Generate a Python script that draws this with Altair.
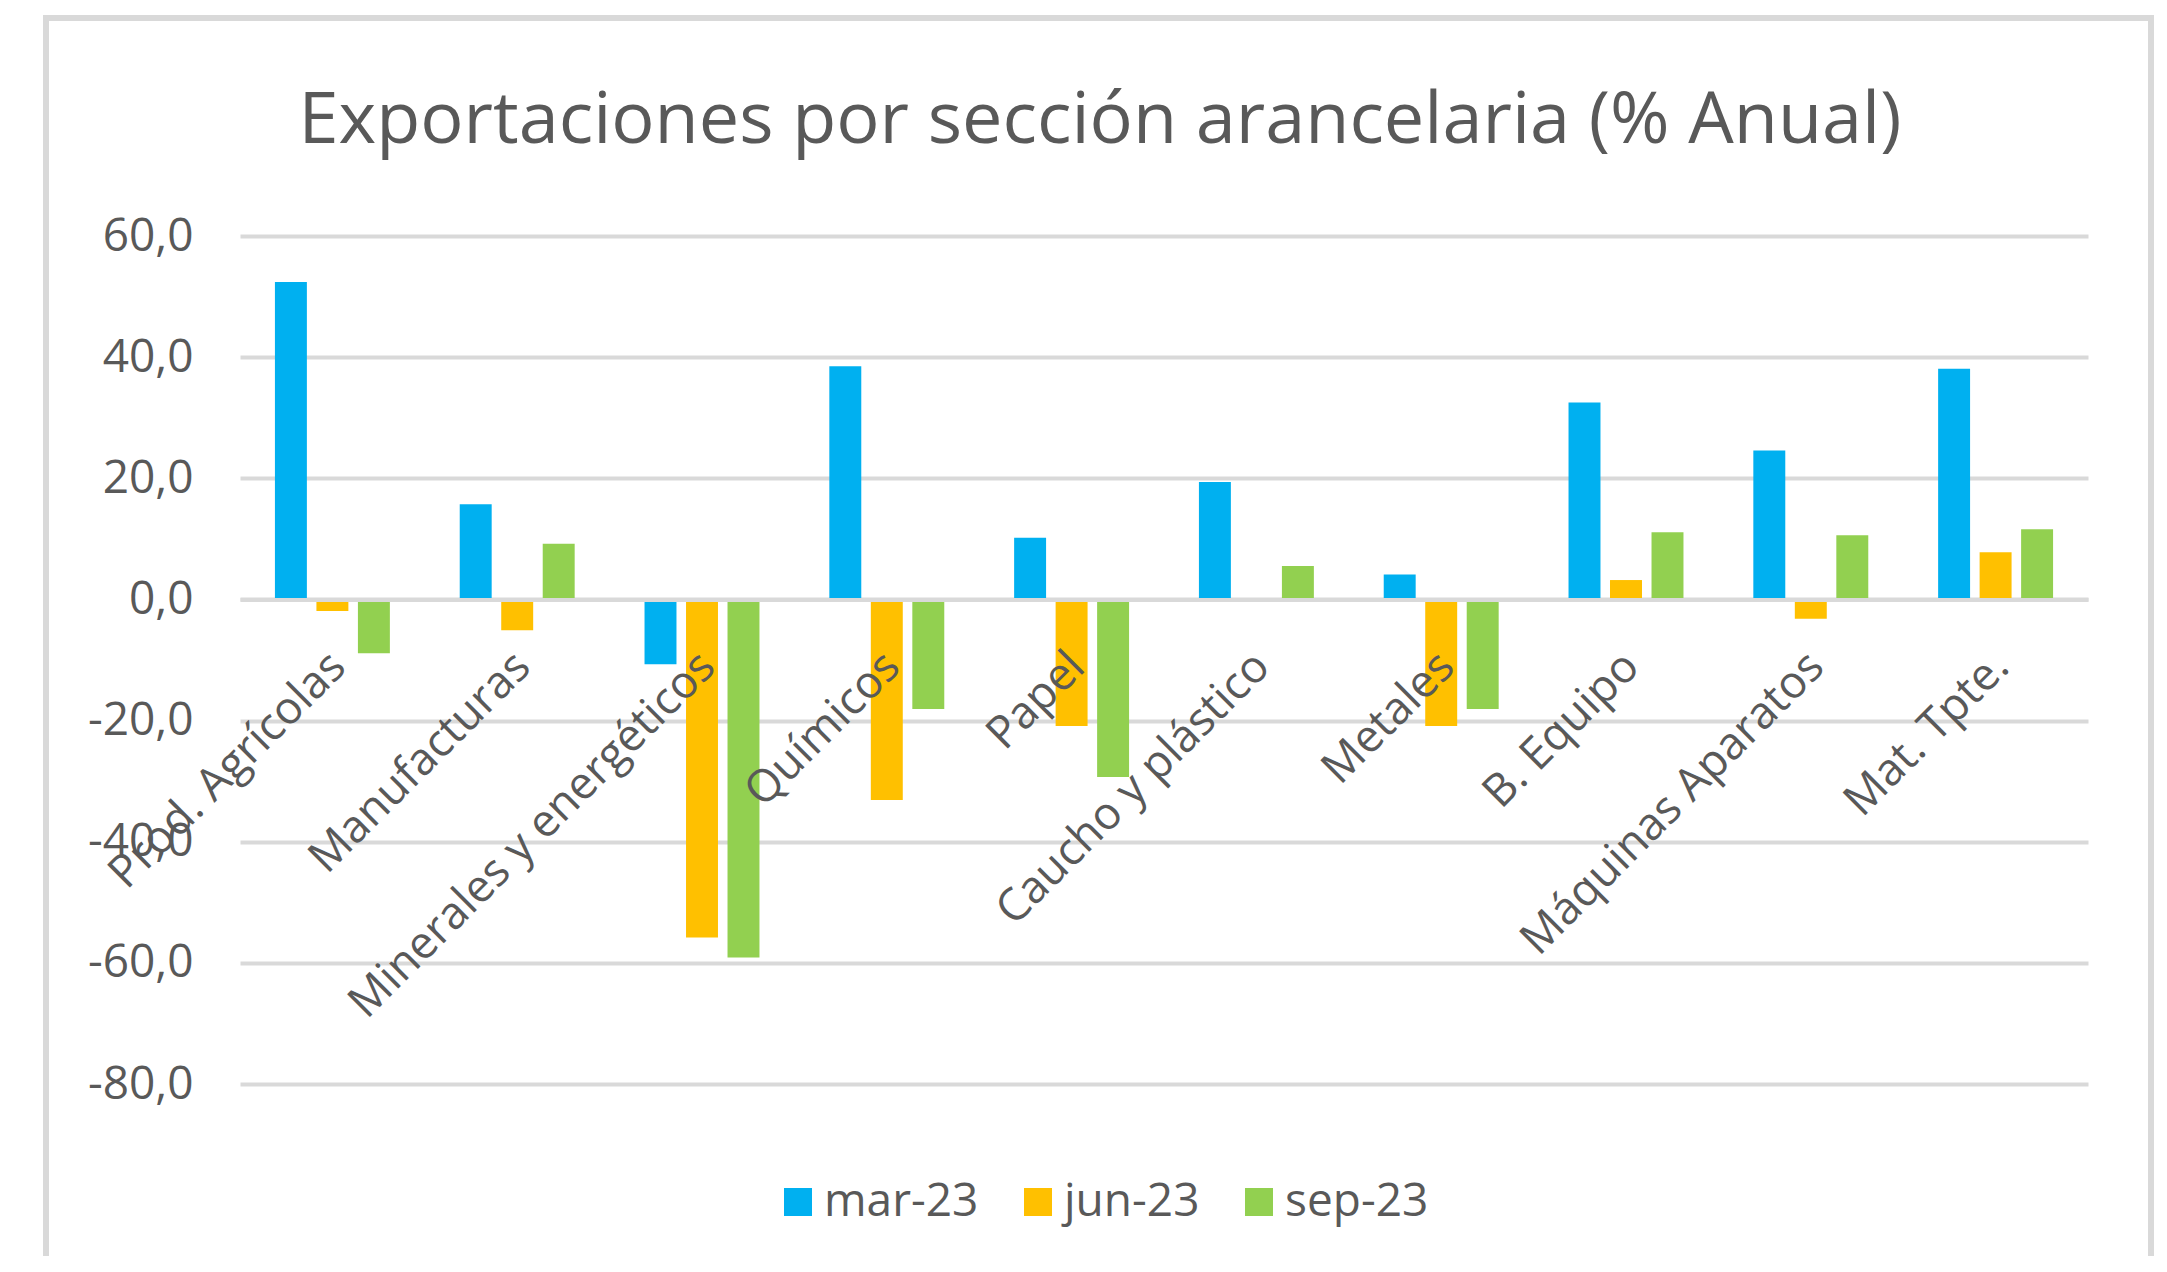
import altair as alt
import pandas as pd

categories = ["Prod. Agrícolas", "Manufacturas", "Minerales y energéticos", "Químicos",
              "Papel", "Caucho y plástico", "Metales", "B. Equipo",
              "Máquinas Aparatos", "Mat. Tpte."]
series = ["mar-23", "jun-23", "sep-23"]
mar_23 = [52.4, 15.7, -10.7, 38.5, 10.2, 19.4, 4.1, 32.5, 24.6, 38.1]
jun_23 = [-1.9, -5.1, -55.8, -33.1, -20.9, 0.0, -20.9, 3.2, -3.2, 7.8]
sep_23 = [-8.9, 9.2, -59.1, -18.1, -29.3, 5.5, -18.1, 11.1, 10.6, 11.6]
y_ticks = [-80, -60, -40, -20, 0, 20, 40, 60]
colors = ["#00B0F0", "#FFC000", "#92D050"]

rows = []
for name, vals in zip(series, [mar_23, jun_23, sep_23]):
    for c, v in zip(categories, vals):
        rows.append({"cat": c, "serie": name, "valor": v})
df = pd.DataFrame(rows)

W, H = 1848, 848
zero_from_bottom = H * 80 / 140
FONT = "Open Sans"
GRAY = "#595959"
LINE = "#D9D9D9"

bars = alt.Chart(df).mark_bar().encode(
    x=alt.X("cat:N", sort=categories, title=None,
            scale=alt.Scale(paddingInner=0.378, paddingOuter=0.189),
            axis=alt.Axis(orient="bottom", offset=-zero_from_bottom, labelAngle=-45,
                          labelAlign="right", labelBaseline="top", labelPadding=44,
                          labelOffset=-10,
                          labelFontSize=45, labelFont=FONT, labelColor=GRAY,
                          ticks=False, domainColor=LINE, domainWidth=4,
                          zindex=1, labelLimit=1000)),
    xOffset=alt.XOffset("serie:N", sort=series, scale=alt.Scale(paddingInner=0.23, paddingOuter=0)),
    y=alt.Y("valor:Q", title=None,
            scale=alt.Scale(domain=[-80, 60], nice=False, zero=False),
            axis=alt.Axis(values=y_ticks, domain=False, ticks=False,
                          gridColor=LINE, gridWidth=4,
                          labelExpr="(datum.value < 0 ? '-' : '') + replace(format(abs(datum.value), '.1f'), '.', ',')",
                          labelFontSize=46, labelFont=FONT, labelColor=GRAY,
                          labelPadding=47)),
    color=alt.Color("serie:N", sort=series,
                    scale=alt.Scale(domain=series, range=colors),
                    legend=alt.Legend(title=None, orient="none", legendX=535, legendY=943,
                                      direction="horizontal", symbolType="square",
                                      symbolSize=784, symbolStrokeWidth=0,
                                      labelFontSize=46, labelFont=FONT, labelColor=GRAY,
                                      labelOffset=3, columnPadding=36)),
)

frame = alt.Chart(pd.DataFrame({"f": [0]})).mark_rect(
    filled=False, stroke=LINE, strokeWidth=6
).encode(
    x=alt.value(-194), x2=alt.value(1911), y=alt.value(-218), y2=alt.value(1100)
)

chart = alt.layer(bars, frame).properties(
    width=W, height=H,
    title=alt.TitleParams("Exportaciones por sección arancelaria (% Anual)",
                          fontSize=72, font=FONT, fontWeight="normal", color=GRAY,
                          anchor="middle", dx=-64, offset=-200, baseline="alphabetic"),
    padding={"left": 232, "top": 228, "right": 70, "bottom": 172},
    autosize=alt.AutoSizeParams(type="none"),
).configure_view(stroke=None)

chart.save("out.html", embed_options={"renderer": "svg", "actions": False})
